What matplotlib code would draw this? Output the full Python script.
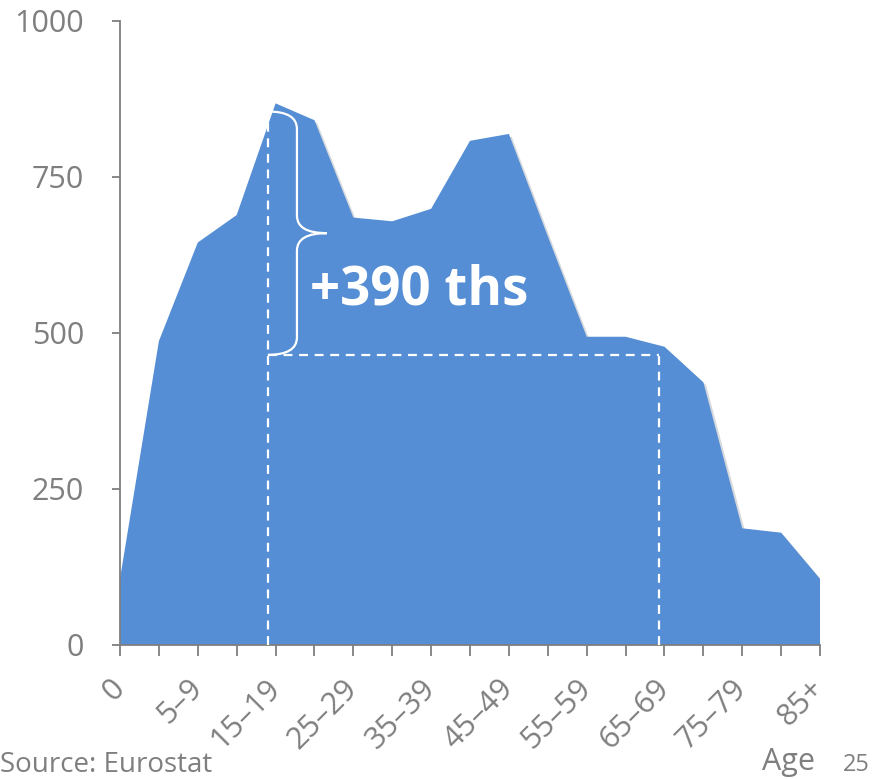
import matplotlib
matplotlib.use("Agg")
from matplotlib import pyplot as plt
from matplotlib.path import Path
from matplotlib.patches import PathPatch
import matplotlib.patheffects as pe

plt.rcParams['font.family'] = ['Open Sans', 'DejaVu Sans']

age_groups = ['0', '1–4', '5–9', '10–14', '15–19', '20–24', '25–29', '30–34',
              '35–39', '40–44', '45–49', '50–54', '55–59', '60–64', '65–69',
              '70–74', '75–79', '80–84', '85+']
population = [106, 487, 645, 689, 868, 841, 685, 679, 699, 808, 819, 655,
              494, 494, 478, 421, 187, 180, 106]

peak_level = 855
base_level = 465
peak_pos = 3.8
base_end_pos = 13.85

grey = '#7f7f7f'
blue = '#558ed5'

fig = plt.figure(figsize=(8.72, 7.79), dpi=100)
ax = fig.add_axes([120 / 872, 1 - 645 / 779, 700 / 872, 624 / 779])

xs = list(range(len(age_groups)))
area = ax.fill_between(xs, population, 0, color=blue, linewidth=0, zorder=2)
area.set_path_effects([pe.SimplePatchShadow(offset=(2, -2), alpha=0.18), pe.Normal()])

# dashed guide lines
dash = dict(color='white', lw=1.6, linestyle=(0, (4, 3)), zorder=3)
ax.plot([peak_pos, peak_pos], [0, peak_level], **dash)
ax.plot([peak_pos, base_end_pos], [base_level, base_level], **dash)
ax.plot([base_end_pos, base_end_pos], [0, base_level], **dash)

# curly brace between the two levels
x0, x1, x2 = peak_pos, 4.55, 5.32
ymid = (peak_level + base_level) / 2
r = 28
verts = [(x0, peak_level), (x1, peak_level), (x1, peak_level - r),
         (x1, ymid + r), (x1, ymid), (x2, ymid),
         (x1, ymid), (x1, ymid - r),
         (x1, base_level + r), (x1, base_level), (x0, base_level)]
codes = [Path.MOVETO, Path.CURVE3, Path.CURVE3,
         Path.LINETO, Path.CURVE3, Path.CURVE3,
         Path.CURVE3, Path.CURVE3,
         Path.LINETO, Path.CURVE3, Path.CURVE3]
ax.add_patch(PathPatch(Path(verts, codes), facecolor='none', edgecolor='white',
                       lw=1.6, zorder=4))

ax.text(4.88, 568, '+%d ths' % (peak_level - base_level), color='white',
        fontsize=38, fontweight='bold', ha='left', va='center', zorder=5)

ax.set_xlim(0, len(age_groups) - 1)
ax.set_ylim(0, 1000)
ax.set_yticks([0, 250, 500, 750, 1000])
ax.set_xticks(xs)
ax.set_xticklabels([g if i % 2 == 0 else '' for i, g in enumerate(age_groups)],
                   rotation=45, ha='right', va='center', rotation_mode='anchor')

for side in ['top', 'right']:
    ax.spines[side].set_visible(False)
for side in ['left', 'bottom']:
    ax.spines[side].set_color(grey)
    ax.spines[side].set_linewidth(1.3)
ax.tick_params(axis='y', length=6, width=1.3, color=grey, labelcolor=grey,
               labelsize=22, pad=20)
ax.tick_params(axis='x', length=8, width=1.3, color=grey, labelcolor=grey,
               labelsize=22, pad=20)

fig.text(0.0, 0 / 779, 'Source: Eurostat', color=grey, fontsize=20,
         ha='left', va='bottom')
fig.text(815 / 872, 2 / 779, 'Age', color=grey, fontsize=22, ha='right', va='bottom')
fig.text(870 / 872, 2 / 779, '25', color=grey, fontsize=17, ha='right', va='bottom')

fig.savefig('out.png', dpi=100)
